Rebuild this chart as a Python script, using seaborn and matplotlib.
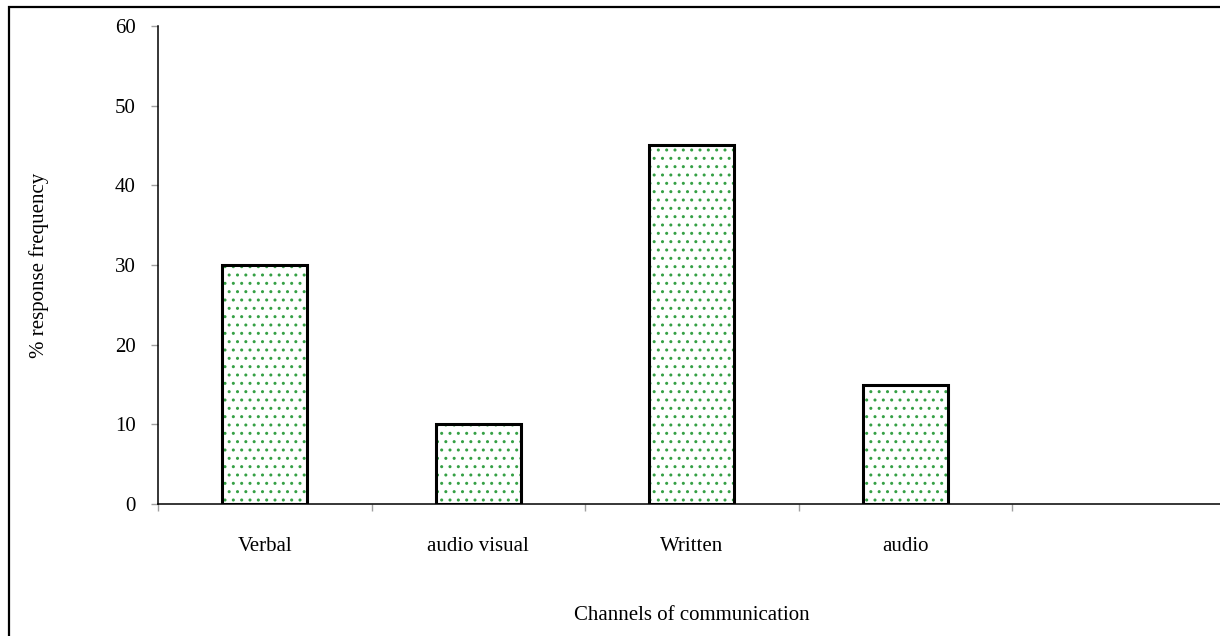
import matplotlib
matplotlib.use("Agg")
import matplotlib.pyplot as plt
from matplotlib.patches import Rectangle
import seaborn as sns

# Share of responses by channel of communication
channels = ["Verbal", "audio visual", "Written", "audio"]
response_pct = [30, 10, 45, 15]
y_ticks = [0, 10, 20, 30, 40, 50, 60]

sns.set_style("white")
plt.rcParams["font.family"] = ["Liberation Serif", "DejaVu Serif"]
plt.rcParams["font.size"] = 15
plt.rcParams["text.color"] = "black"
plt.rcParams["axes.labelcolor"] = "black"

W, H = 1220, 636
fig = plt.figure(figsize=(W / 100, H / 100), dpi=100)

# plot area in pixel terms: x from 158 to 1225 (runs past the right edge), y from 26 to 504
ax = fig.add_axes([158 / W, (H - 504) / H, (1225.5 - 158) / W, (504 - 26) / H])

dot_green = "#35a045"

# dotted fill (hatch colour follows the edge colour)
sns.barplot(x=channels, y=response_pct, ax=ax, width=0.4, color="white",
            edgecolor=dot_green, linewidth=0, hatch="..", errorbar=None)
# black outline on top
sns.barplot(x=channels, y=response_pct, ax=ax, width=0.4, fill=False,
            edgecolor="black", linewidth=2.2, errorbar=None)

ax.set_xlim(-0.5, 4.5)
ax.set_ylim(0, 60)
ax.set_yticks(y_ticks)
ax.set_yticklabels([str(t) for t in y_ticks])

# category boundaries get the tick marks, labels sit at bar centres
ax.set_xticks([-0.5, 0.5, 1.5, 2.5, 3.5, 4.5])
ax.set_xticklabels([])
ax.set_xticks(range(len(channels)), minor=True)
ax.set_xticklabels(channels, minor=True)
ax.tick_params(axis="x", which="major", direction="out", length=5, width=1,
               color="#a0a0a0", bottom=True)
ax.tick_params(axis="x", which="minor", length=0, pad=24, labelsize=15,
               labelcolor="black")
ax.tick_params(axis="y", direction="out", length=5, width=1, color="#a0a0a0",
               left=True, pad=11, labelsize=15, labelcolor="black")

for side in ("top", "right"):
    ax.spines[side].set_visible(False)
for side in ("left", "bottom"):
    ax.spines[side].set_color("black")
    ax.spines[side].set_linewidth(1.1)

ax.set_xlabel("Channels of communication", fontsize=15, labelpad=36)
ax.set_ylabel("% response frequency", fontsize=15)
ax.yaxis.set_label_coords(-0.102, 0.5)

# chart frame
fig.patches.append(Rectangle((9 / W, -0.2), 1.5, 1.2 - 7 / H, transform=fig.transFigure,
                             fill=False, edgecolor="black", linewidth=1.6, zorder=10))

fig.savefig("out.png", dpi=100)
